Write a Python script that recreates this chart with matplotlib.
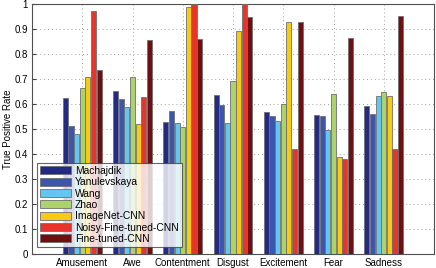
import matplotlib
matplotlib.use("Agg")
import matplotlib.pyplot as plt
import numpy as np

plt.rcParams['font.family'] = ['Liberation Sans', 'DejaVu Sans']

categories = ["Amusement", "Awe", "Contentment", "Disgust", "Excitement", "Fear", "Sadness"]
methods = ["Machajdik", "Yanulevskaya", "Wang", "Zhao", "ImageNet-CNN",
           "Noisy-Fine-tuned-CNN", "Fine-tuned-CNN"]
machajdik = [0.624, 0.653, 0.528, 0.635, 0.568, 0.557, 0.592]
yanulevskaya = [0.511, 0.621, 0.571, 0.596, 0.552, 0.551, 0.561]
wang = [0.481, 0.588, 0.523, 0.525, 0.532, 0.497, 0.631]
zhao = [0.664, 0.709, 0.509, 0.693, 0.600, 0.639, 0.648]
imagenet_cnn = [0.707, 0.520, 0.987, 0.892, 0.929, 0.387, 0.632]
noisy_ft_cnn = [0.972, 0.629, 1.000, 1.000, 0.420, 0.381, 0.420]
ft_cnn = [0.736, 0.855, 0.859, 0.949, 0.929, 0.865, 0.953]
series = [machajdik, yanulevskaya, wang, zhao, imagenet_cnn, noisy_ft_cnn, ft_cnn]
colors = ["#222a85", "#3d56ad", "#62c6ef", "#acd26c", "#f7cc10", "#e8352c", "#6e1012"]

fig = plt.figure(figsize=(4.36, 2.68), dpi=100)
ax = fig.add_axes([32/436, 1-254/268, 402/436, 250/268])
x = np.arange(1, len(categories) + 1)
n = len(series)
step = 0.112
w = 0.104
for i, (vals, c, name) in enumerate(zip(series, colors, methods)):
    ax.bar(x + (i - (n - 1) / 2) * step, vals, width=w, color=c,
           edgecolor="#707070", linewidth=0.6, label=name, zorder=3)

ax.set_xlim(0, 8)
ax.set_ylim(0, 1)
ax.set_xticks(x)
ax.set_xticklabels(categories)
ax.set_yticks(np.arange(0, 1.01, 0.1))
ax.set_yticklabels(["0"] + [f"{v:.1f}" for v in np.arange(0.1, 0.95, 0.1)] + ["1"])
ax.tick_params(direction="in", labelsize=7, length=3, color="#404040", pad=3)
ax.grid(True, linestyle=(0, (1, 3)), color="#a0a0a0", linewidth=0.7, zorder=0)
for s in ax.spines.values():
    s.set_color("#505050")
    s.set_linewidth(0.8)
ax.set_ylabel("True Positive Rate", fontsize=7, labelpad=1)

leg = ax.legend(loc="lower left", bbox_to_anchor=(5/402, 7/250), fontsize=7.4,
                frameon=True, fancybox=False, borderpad=0.3, labelspacing=0.13,
                handlelength=3.0, handleheight=0.8, handletextpad=0.4,
                borderaxespad=0)
leg.get_frame().set_edgecolor("#404040")
leg.get_frame().set_linewidth(0.8)
leg.set_zorder(5)

fig.savefig("out.png", dpi=100)
